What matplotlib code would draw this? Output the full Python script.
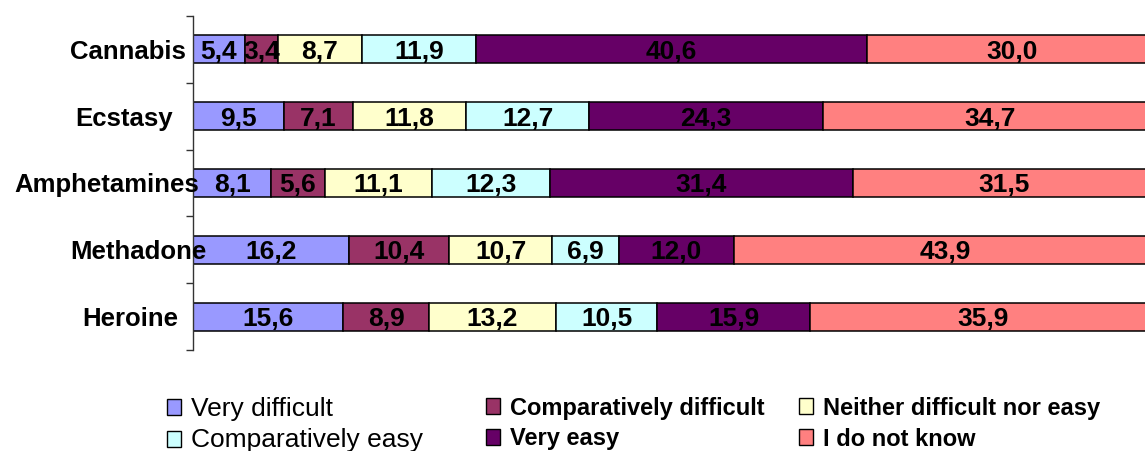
import matplotlib
matplotlib.use("Agg")
import matplotlib.pyplot as plt
from matplotlib.patches import Patch
import numpy as np

plt.rcParams['font.family'] = ['Liberation Sans', 'DejaVu Sans']

categories = ["Cannabis", "Ecstasy", "Amphetamines", "Methadone", "Heroine"]
series_names = ["Very difficult", "Comparatively difficult", "Neither difficult nor easy",
                "Comparatively easy", "Very easy", "I do not know"]
very_difficult = [5.4, 9.5, 8.1, 16.2, 15.6]
comp_difficult = [3.4, 7.1, 5.6, 10.4, 8.9]
neither = [8.7, 11.8, 11.1, 10.7, 13.2]
comp_easy = [11.9, 12.7, 12.3, 6.9, 10.5]
very_easy = [40.6, 24.3, 31.4, 12.0, 15.9]
dont_know = [30.0, 34.7, 31.5, 43.9, 35.9]

series = [very_difficult, comp_difficult, neither, comp_easy, very_easy, dont_know]
colors = ["#9999FF", "#993366", "#FFFFCC", "#CCFFFF", "#660066", "#FF8080"]
# style: horizontal offset (pixels) of each category label's right edge from the axis
label_shift_px = [-7, -20, 6, 13, -15]

W, H = 1145, 451
fig = plt.figure(figsize=(W / 100, H / 100), dpi=100)
ax_left = 193 / W
ax_width = 963 / W
ax_bottom = (H - 350) / H
ax_height = 334 / H
ax = fig.add_axes([ax_left, ax_bottom, ax_width, ax_height])

y = np.arange(len(categories))
left = np.zeros(len(categories))
for vals, col, name in zip(series, colors, series_names):
    vals = np.array(vals)
    bars = ax.barh(y, vals, left=left, height=0.42, color=col, edgecolor="black",
                   linewidth=1.1, label=name)
    for b, v in zip(bars, vals):
        ax.text(b.get_x() + b.get_width() / 2, b.get_y() + b.get_height() / 2,
                f"{v:.1f}".replace(".", ","), ha="center", va="center_baseline",
                fontsize=19, fontweight="bold", color="black")
    left = left + vals

ax.set_xlim(0, 100)
ax.set_ylim(len(categories) - 0.5, -0.5)
ax.set_yticks(y)
ax.set_yticklabels([])
for yi, cat, sh in zip(y, categories, label_shift_px):
    ax.annotate(cat, xy=(0, yi), xycoords=("axes fraction", "data"),
                xytext=(sh * 0.72, 0), textcoords="offset points",
                ha="right", va="center_baseline", fontsize=18.5, fontweight="bold",
                annotation_clip=False)
ax.set_yticks(np.arange(-0.5, len(categories)), minor=True)
ax.tick_params(axis="y", which="major", length=0)
ax.tick_params(axis="y", which="minor", length=5, width=1, color="#333333")
ax.set_xticks([])
for s in ["top", "right", "bottom"]:
    ax.spines[s].set_visible(False)
ax.spines["left"].set_color("#333333")
ax.spines["left"].set_linewidth(1)

handles = [Patch(facecolor=c, edgecolor="black", linewidth=1) for c in colors]
col_x = [167 / W, 486 / W, 799 / W]
groups = [(0, 3), (1, 4), (2, 5)]
regular = {0, 3}
for cx, (a, b) in zip(col_x, groups):
    leg = fig.legend([handles[a], handles[b]], [series_names[a], series_names[b]],
                     loc="upper left", bbox_to_anchor=(cx, 1 - 397 / H),
                     frameon=False, ncol=1, fontsize=18,
                     handlelength=0.55, handleheight=0.6,
                     handletextpad=0.4, labelspacing=0.3, borderaxespad=0, borderpad=0)
    for t, idx in zip(leg.get_texts(), (a, b)):
        if idx in regular:
            t.set_fontsize(19)
            t.set_fontweight("normal")
        else:
            t.set_fontsize(17)
            t.set_fontweight("bold")

fig.savefig("out.png", dpi=100)
